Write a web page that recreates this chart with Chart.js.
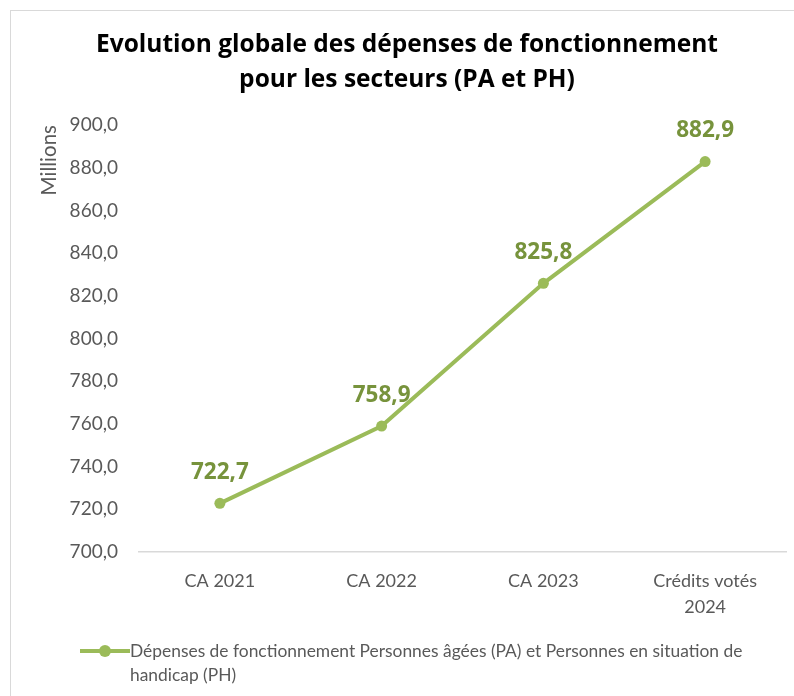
<!DOCTYPE html>
<html>
<head>
<meta charset="utf-8">
<script src="https://cdn.jsdelivr.net/npm/chart.js@4/dist/chart.umd.min.js"></script>
<style>
  html, body { margin: 0; padding: 0; background: #fff; }
  #wrap { position: relative; width: 794px; height: 696px; overflow: hidden; }
  #frame { position: absolute; left: 10px; top: 10px; width: 800px; height: 700px; border: 1px solid #d9d9d9; box-sizing: border-box; }
  #c { position: absolute; left: 0; top: 0; }
  #legend { position: absolute; left: 80px; top: 639px; width: 690px; font-family: Lato, "Open Sans", sans-serif; font-size: 17.4px; color: #595959; line-height: 24px; }
  #legend .mk { position: absolute; left: 0; top: 10px; width: 50px; height: 4px; background: #9bbb59; }
  #legend .mk::after { content: ""; position: absolute; left: 19px; top: -4px; width: 12px; height: 12px; border-radius: 50%; background: #9bbb59; }
  #legend .tx { margin-left: 50px; }
</style>
</head>
<body>
<div id="wrap">
  <div id="frame"></div>
  <canvas id="c" width="794" height="696"></canvas>
  <div id="legend"><div class="mk"></div><div class="tx" id="legendText"></div></div>
</div>
<script>
const categories = ["CA 2021", "CA 2022", "CA 2023", ["Crédits votés", "2024"]];
const seriesName = "Dépenses de fonctionnement Personnes âgées (PA) et Personnes en situation de handicap (PH)";
const values = [722.7, 758.9, 825.8, 882.9];
const titleLines = ["Evolution globale des dépenses de fonctionnement", "pour les secteurs (PA et PH)"];
const yAxisTitle = "Millions";
const yMin = 700, yMax = 900, yStep = 20;

const fmt = v => v.toFixed(1).replace('.', ',');
document.getElementById('legendText').textContent = seriesName;

const labelPlugin = {
  id: 'pointLabels',
  afterDatasetsDraw(chart) {
    const ctx = chart.ctx;
    const meta = chart.getDatasetMeta(0);
    ctx.save();
    ctx.font = 'bold 22.5px "Open Sans", sans-serif';
    ctx.fillStyle = '#77933c';
    ctx.textAlign = 'center';
    ctx.textBaseline = 'middle';
    meta.data.forEach((pt, i) => {
      ctx.fillText(fmt(chart.data.datasets[0].data[i]), pt.x, pt.y - 31);
    });
    ctx.restore();
  }
};

new Chart(document.getElementById('c'), {
  type: 'line',
  data: {
    labels: categories,
    datasets: [{
      label: seriesName,
      data: values,
      borderColor: '#9bbb59',
      backgroundColor: '#9bbb59',
      borderWidth: 4,
      pointRadius: 5.5,
      pointBackgroundColor: '#9bbb59',
      pointBorderWidth: 0,
      tension: 0
    }]
  },
  options: {
    responsive: false,
    animation: false,
    layout: { padding: { left: 28, right: 8, top: 27, bottom: 60 } },
    plugins: {
      legend: { display: false },
      tooltip: { enabled: false },
      title: {
        display: true,
        text: titleLines,
        color: '#000',
        font: { family: '"Open Sans", sans-serif', size: 24.5, weight: 'bold', lineHeight: 1.45 },
        padding: { top: 0, bottom: 27 }
      }
    },
    scales: {
      x: {
        offset: true,
        grid: { display: false, drawTicks: false },
        border: { display: true, color: '#d9d9d9', width: 1.5 },
        ticks: { color: '#595959', font: { family: 'Lato, sans-serif', size: 18, lineHeight: 1.45 }, padding: 16, maxRotation: 0 }
      },
      y: {
        min: yMin, max: yMax,
        afterFit(scale) { scale.width = 111; },
        grid: { display: false, drawTicks: false },
        border: { display: false },
        ticks: { stepSize: yStep, color: '#595959', font: { family: 'Lato, sans-serif', size: 19 }, padding: 21, callback: v => fmt(v) },
        title: { display: true, text: yAxisTitle, align: 'end', color: '#595959', font: { family: 'Lato, sans-serif', size: 20.5, lineHeight: 1 }, padding: { top: 11, bottom: 0 } }
      }
    }
  },
  plugins: [labelPlugin]
});
</script>
</body>
</html>
